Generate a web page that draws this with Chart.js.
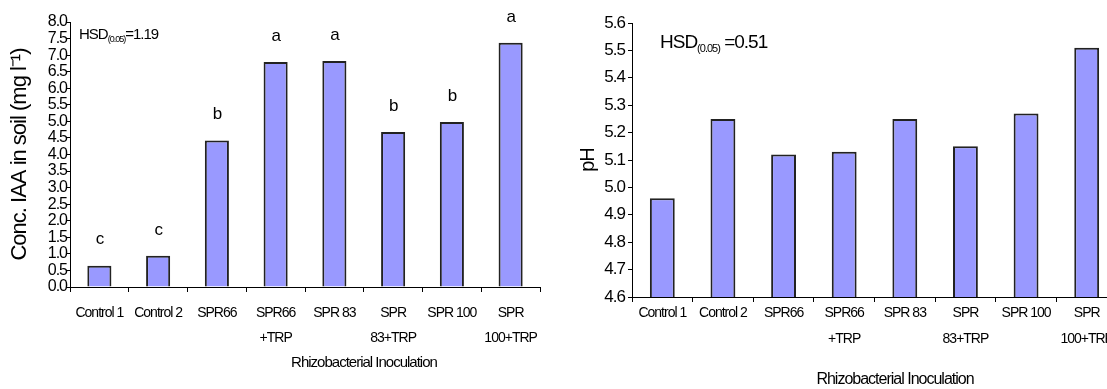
<!DOCTYPE html>
<html>
<head>
  <title>IAA and pH</title>
  <script src="https://cdn.jsdelivr.net/npm/chart.js"></script>
  <style>
    html, body { margin: 0; padding: 0; background: #fff; overflow: hidden; }
    #left { position: absolute; left: 0; top: 0; width: 560px; height: 389px; }
    #right { position: absolute; left: 560px; top: 0; width: 580px; height: 389px; }
  </style>
</head>
<body>
  <div id="left"><canvas id="iaaChart"></canvas></div>
  <div id="right"><canvas id="phChart"></canvas></div>
  <script>
    // data
    var treatments = [['Control 1'], ['Control 2'], 'SPR66', ['SPR66', '+TRP'], 'SPR 83', ['SPR', '83+TRP'], 'SPR 100', ['SPR', '100+TRP']];
    var iaaValues = [0.64, 0.94, 4.42, 6.79, 6.82, 4.68, 4.98, 7.37];
    var iaaLetters = ['c', 'c', 'b', 'a', 'a', 'b', 'b', 'a'];
    var phValues = [4.96, 5.25, 5.12, 5.13, 5.25, 5.15, 5.27, 5.51];
    var iaaHsd = '1.19';
    var phHsd = '0.51';
    var xTitle = 'Rhizobacterial Inoculation';

    var FONT = "'Liberation Sans', Arial, sans-serif";
    Chart.defaults.font.family = FONT;
    Chart.defaults.color = '#000';

    // the original text is squeezed tight
    var tightText = {
      id: 'tightText',
      beforeDraw: function(chart) { chart.ctx.letterSpacing = '-1px'; }
    };

    // significance letters above bars
    var lettersPlugin = {
      id: 'letters',
      afterDatasetsDraw: function(chart, args, opts) {
        if (!opts.letters) return;
        var ctx = chart.ctx;
        var meta = chart.getDatasetMeta(0);
        ctx.save();
        ctx.font = '17px ' + FONT;
        ctx.fillStyle = '#000';
        ctx.textAlign = 'center';
        ctx.textBaseline = 'middle';
        meta.data.forEach(function(bar, i) {
          ctx.fillText(opts.letters[i], bar.x, bar.y - 26);
        });
        ctx.restore();
      }
    };

    // HSD note and x title
    var notesPlugin = {
      id: 'notes',
      afterDraw: function(chart, args, opts) {
        var ctx = chart.ctx, a = chart.chartArea;
        ctx.save();
        ctx.fillStyle = '#000';
        ctx.textBaseline = 'middle';
        ctx.textAlign = 'left';
        var x = a.left + opts.hsdX, y = a.top + opts.hsdY;
        ctx.font = opts.hsdSize + 'px ' + FONT;
        ctx.fillText('HSD', x, y);
        x += ctx.measureText('HSD').width;
        ctx.font = opts.subSize + 'px ' + FONT;
        ctx.fillText('(0.05)', x, y + opts.hsdSize * 0.32);
        x += ctx.measureText('(0.05)').width;
        ctx.font = opts.hsdSize + 'px ' + FONT;
        ctx.fillText(opts.hsdText, x, y);
        ctx.textAlign = 'center';
        ctx.font = opts.titleSize + 'px ' + FONT;
        ctx.fillText(xTitle, opts.titleX, opts.titleY);
        ctx.restore();
      }
    };

    function makeOptions(o) {
      return {
        responsive: true,
        maintainAspectRatio: false,
        animation: false,
        layout: { padding: { top: o.top, right: o.right, left: 0, bottom: 0 } },
        plugins: {
          legend: { display: false },
          tooltip: { enabled: false },
          letters: { letters: o.letters },
          notes: o.notes
        },
        scales: {
          x: {
            offset: true,
            grid: { display: true, drawOnChartArea: false, offset: true, tickLength: 5, color: '#000' },
            border: { color: '#000', width: 1 },
            ticks: {
              autoSkip: false, maxRotation: 0, minRotation: 0, padding: o.xPad,
              font: { size: 14, lineHeight: o.xLine }
            },
            afterFit: function(s) { s.height = o.xHeight; }
          },
          y: {
            min: o.min, max: o.max,
            grid: { display: true, drawOnChartArea: false, tickLength: o.yTick, color: '#000' },
            border: { color: '#000', width: 1 },
            ticks: {
              stepSize: o.step, autoSkip: false, padding: o.yPad,
              font: { size: o.yFont },
              callback: function(v) { return Number(v).toFixed(1); }
            },
            title: { display: true, text: o.yTitle, font: { size: o.yTitleSize }, padding: { top: o.yTitlePad, bottom: 0 } },
            afterFit: function(s) { s.width = o.yWidth; }
          }
        }
      };
    }

    var barStyle = {
      backgroundColor: '#9999ff',
      borderColor: '#222',
      borderWidth: 2,
      categoryPercentage: 1,
      barPercentage: 0.41
    };

    new Chart(document.getElementById('iaaChart').getContext('2d'), {
      type: 'bar',
      data: { labels: treatments, datasets: [Object.assign({ data: iaaValues }, barStyle)] },
      options: makeOptions({
        top: 22, right: 20, min: 0, max: 8, step: 0.5, yFont: 16, yTick: 3, yPad: 0,
        yWidth: 70, yTitle: 'Conc. IAA in soil (mg l\u207B\u00B9)', yTitleSize: 22, yTitlePad: 7,
        xHeight: 102, xPad: 8.5, xLine: 1.79,
        letters: iaaLetters,
        notes: { hsdX: 9, hsdY: 13, hsdSize: 15, subSize: 9, hsdText: '=' + iaaHsd, titleSize: 15, titleX: 364, titleY: 363 }
      }),
      plugins: [tightText, lettersPlugin, notesPlugin]
    });

    new Chart(document.getElementById('phChart').getContext('2d'), {
      type: 'bar',
      data: { labels: treatments, datasets: [Object.assign({ data: phValues }, barStyle)] },
      options: makeOptions({
        top: 23, right: 23, min: 4.6, max: 5.6, step: 0.1, yFont: 17, yTick: 4, yPad: 3,
        yWidth: 72, yTitle: 'pH', yTitleSize: 20, yTitlePad: 16,
        xHeight: 92, xPad: -2, xLine: 1.86,
        letters: null,
        notes: { hsdX: 28, hsdY: 20, hsdSize: 19, subSize: 11, hsdText: ' =' + phHsd, titleSize: 16, titleX: 335, titleY: 380 }
      }),
      plugins: [tightText, lettersPlugin, notesPlugin]
    });
  </script>
</body>
</html>
